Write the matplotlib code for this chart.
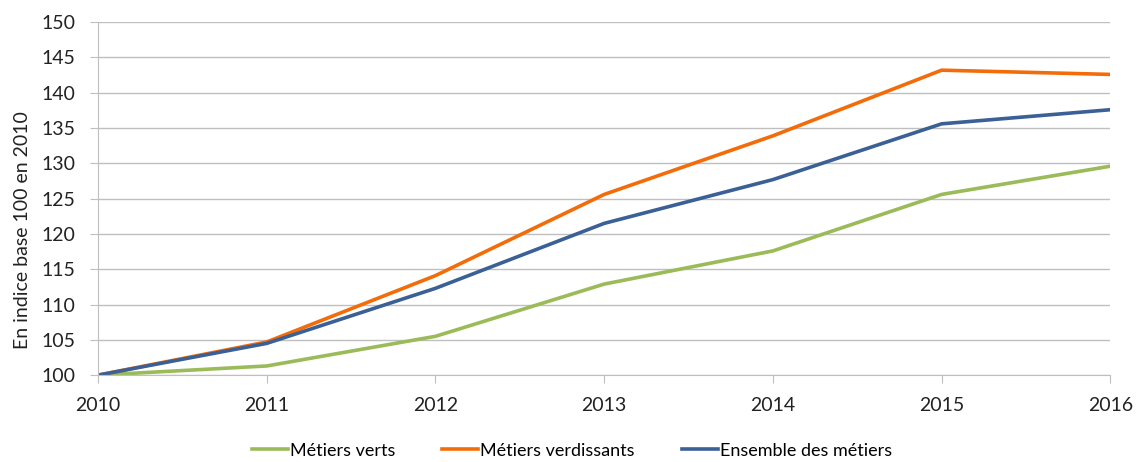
import matplotlib.pyplot as plt

years = [2010, 2011, 2012, 2013, 2014, 2015, 2016]
verts = [100, 101.3, 105.5, 112.9, 117.6, 125.6, 129.6]
verdissants = [100, 104.7, 114.1, 125.6, 133.9, 143.2, 142.6]
ensemble = [100, 104.5, 112.3, 121.5, 127.7, 135.6, 137.6]
yticks = list(range(100, 151, 5))

plt.rcParams['font.family'] = ['Lato', 'DejaVu Sans']

fig = plt.figure(figsize=(11.4, 4.62), dpi=100)
ax = fig.add_axes([0.086, 0.188, 0.888, 0.764])

ax.plot(years, verts, color='#9BBB59', lw=2.6, label='Métiers verts')
ax.plot(years, verdissants, color='#F36C0A', lw=2.6, label='Métiers verdissants')
ax.plot(years, ensemble, color='#3A6096', lw=2.6, label='Ensemble des métiers')

ax.set_xlim(2010, 2016)
ax.set_ylim(100, 150)
ax.set_yticks(yticks)
ax.set_xticks(years)
ax.grid(axis='y', color='#BFBFBF', lw=1)
ax.set_axisbelow(True)
for s in ['top', 'right']:
    ax.spines[s].set_visible(False)
ax.spines['left'].set_color('#BFBFBF')
ax.spines['bottom'].set_color('#BFBFBF')
ax.tick_params(axis='both', colors='#BFBFBF', labelcolor='#222222', labelsize=14, length=6)
ax.tick_params(axis='y', length=6, pad=10)
ax.tick_params(axis='x', pad=10)
ax.set_ylabel('En indice base 100 en 2010', fontsize=14, color='#222222')
ax.yaxis.set_label_coords(-0.066, 0.41)

ax.legend(loc='upper center', bbox_to_anchor=(0.468, -0.145), ncol=3, frameon=False,
          fontsize=13, handlelength=2.0, handletextpad=0.1, columnspacing=2.6)

plt.savefig('out.png')
